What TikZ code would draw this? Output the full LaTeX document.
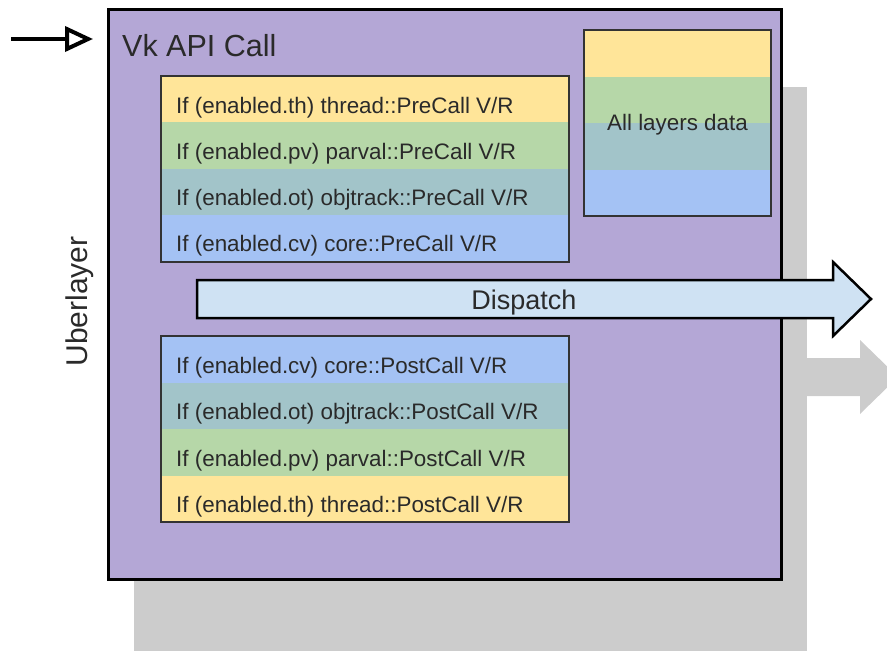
\documentclass[tikz,border=0pt]{standalone}
\usepackage{fontspec}
\setmainfont{Liberation Sans}
\usetikzlibrary{arrows.meta}
\definecolor{uberpurple}{HTML}{B4A7D6}
\definecolor{thyellow}{HTML}{FFE599}
\definecolor{pvgreen}{HTML}{B6D7A8}
\definecolor{otteal}{HTML}{A2C4C9}
\definecolor{cvblue}{HTML}{A4C2F4}
\definecolor{dispatchblue}{HTML}{CFE2F3}
\definecolor{shadowgray}{HTML}{CCCCCC}
\definecolor{txtgray}{HTML}{2A2A2A}
\definecolor{linegray}{HTML}{333333}
\begin{document}
\begin{tikzpicture}[x=1pt,y=-1pt,
  layerrow/.style={anchor=north west,minimum width=408pt,minimum height=46.5pt,inner sep=0pt},
  datarow/.style={anchor=north west,minimum width=187pt,minimum height=46.5pt,inner sep=0pt},
  rowtext/.style={anchor=base west,inner sep=0pt,text=txtgray,font=\fontsize{22.4}{26}\selectfont},
  boxline/.style={draw=linegray,line width=2pt}]
\useasboundingbox (0,0) rectangle (887,651);
% shadow behind the uberlayer
\fill[shadowgray] (134,87) rectangle (807,651);
\begin{scope}
\clip (0,0) rectangle (887,651);
\fill[shadowgray] (224,358) -- (860,358) -- (860,340) -- (898,377) -- (860,414) -- (860,396) -- (224,396) -- cycle;
\end{scope}
% uberlayer
\node[draw=black,line width=2.5pt,fill=uberpurple,anchor=north west,minimum width=673pt,minimum height=570pt,inner sep=0pt] (uber) at (107,8) {};
\node[anchor=base west,inner sep=0pt,text=txtgray,font=\fontsize{30.5}{36}\selectfont] (title) at (122,56) {Vk API Call};
\node[rotate=90,anchor=base,inner sep=0pt,text=txtgray,font=\fontsize{30}{36}\selectfont] (uberlabel) at (87,301.5) {Uberlayer};
\coordinate (callin) at (11,39);
\draw[line width=4pt,-{Triangle[open,length=28pt,width=25pt]},shorten >=14pt] (callin) -- (uber.west |- callin);
% pre calls
\foreach \col/\txt [count=\i] in {thyellow/{If (enabled.th) thread::PreCall V/R},
  pvgreen/{If (enabled.pv) parval::PreCall V/R},
  otteal/{If (enabled.ot) objtrack::PreCall V/R},
  cvblue/{If (enabled.cv) core::PreCall V/R}}
{
  \node[layerrow,fill=\col] (pre\i) at (161,{76+46.25*(\i-1)}) {};
  \node[rowtext] (pretext\i) at (176,{113+46.25*(\i-1)}) {\txt};
}
\draw[boxline] (pre1.north west) rectangle (pre4.south east);
% post calls
\foreach \col/\txt [count=\i] in {cvblue/{If (enabled.cv) core::PostCall V/R},
  otteal/{If (enabled.ot) objtrack::PostCall V/R},
  pvgreen/{If (enabled.pv) parval::PostCall V/R},
  thyellow/{If (enabled.th) thread::PostCall V/R}}
{
  \node[layerrow,fill=\col] (post\i) at (161,{336+46.5*(\i-1)}) {};
  \node[rowtext] (posttext\i) at (176,{373+46.5*(\i-1)}) {\txt};
}
\draw[boxline] (post1.north west) rectangle (post4.south east);
% all layers data
\foreach \col [count=\i] in {thyellow,pvgreen,otteal,cvblue}
  \node[datarow,fill=\col] (data\i) at (584,{30+46.5*(\i-1)}) {};
\draw[boxline] (data1.north west) rectangle (data4.south east);
\node[rowtext,anchor=base] (alldata) at (677.5,130) {All layers data};
% dispatch
\draw[line width=2.5pt,fill=dispatchblue] (197,280) -- (833,280) -- (833,262) -- (871,299) -- (833,336) -- (833,318) -- (197,318) -- cycle;
\node[anchor=base,inner sep=0pt,text=txtgray,font=\fontsize{27}{32}\selectfont] (dispatch) at (524,309) {Dispatch};
\end{tikzpicture}
\end{document}
